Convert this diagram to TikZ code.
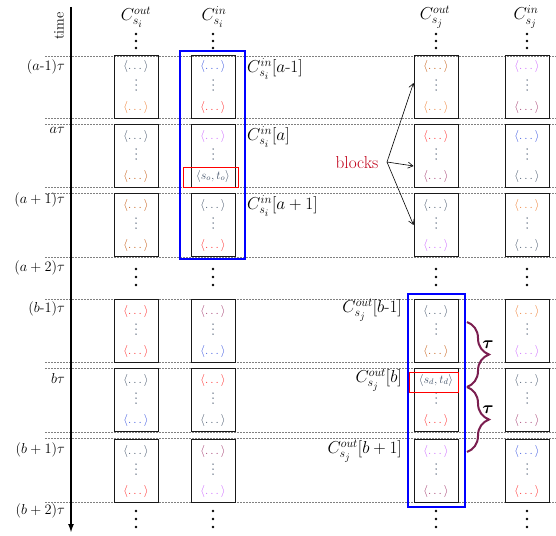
\documentclass[tikz,border=0pt]{standalone}
\usepackage{amsmath}
\usepackage{bm}
\usetikzlibrary{arrows.meta,decorations.pathreplacing}

\definecolor{slate}{HTML}{44546A}
\definecolor{orange}{HTML}{ED7D31}
\definecolor{brown}{HTML}{C55A11}
\definecolor{hotred}{HTML}{FF2A2A}
\definecolor{blu}{HTML}{3A55E0}
\definecolor{lilac}{HTML}{CC66FF}
\definecolor{plum}{HTML}{A33B6F}
\definecolor{blkred}{HTML}{C00018}
\definecolor{bracecol}{HTML}{7B1E50}

\newcommand{\ent}[1]{\textcolor{#1}{$\langle\dots\rangle$}}
\newcommand{\pairtxt}[2]{\textcolor{slate}{$\langle #1,#2\rangle$}}
\newcommand{\hy}{\mbox{-}}

\begin{document}
\begin{tikzpicture}[
    x=1pt, y=-1pt,
    blockbox/.style={
        draw=black!90,
        line width=1pt,
        minimum width=44pt,
        minimum height=63pt,
        inner sep=0pt,
        anchor=north
    },
    entry/.style={font=\large, inner sep=0pt},
    timelabel/.style={font=\Large, anchor=east, inner sep=0pt},
    clabel/.style={font=\LARGE, inner sep=0pt},
    grid/.style={dash pattern=on 2pt off 1pt, draw=black!50, line width=0.5pt},
    selbox/.style={draw=blue, line width=2.2pt, inner sep=0pt},
    markbox/.style={draw=red, line width=0.8pt, inner sep=0pt},
    blkarrow/.style={-{Straight Barb[length=5pt,width=6pt]}, line width=0.6pt},
    tbrace/.style={
        decorate,
        decoration={brace, amplitude=22pt},
        draw=bracecol,
        line width=2pt
    }
]

    \useasboundingbox (0,0) rectangle (556,535);

    % columns and rows
    \foreach \cn/\x in {1/136,2/213,3/436,4/527}{
        \coordinate (c\cn) at (\x,0);
    }
    \foreach \rn/\y in {1/55,2/124,3/193,4/299,5/368,6/439}{
        \coordinate (r\rn) at (0,\y);
    }

    \foreach \y in {56,118,124,187,193,257,299,362,368,432,438,502}{
        \draw[grid] (45,\y) -- (556,\y);
    }

    % time axis
    \coordinate (axtop) at (71,7);
    \coordinate (axbot) at (71,533);
    \draw[-{Latex[length=9pt,width=6pt]}, line width=2pt] (axtop) -- (axbot);
    \node[rotate=90, font=\Large] (timelbl) at (59,26) {time};

    \foreach \y/\lbl [count=\k] in {
        67/{$(a\hy1)\tau$},130/{$a\tau$},200/{$(a+1)\tau$},268/{$(a+2)\tau$},
        309/{$(b\hy1)\tau$},378/{$b\tau$},450/{$(b+1)\tau$},511/{$(b+2)\tau$}
    }{
        \node[timelabel] (tl\k) at (65,\y) {\lbl};
    }

    % column heads
    \foreach \cn/\x/\lbl in {
        1/136/{$C^{out}_{s_i}$},2/214/{$C^{in}_{s_i}$},
        3/435/{$C^{out}_{s_j}$},4/526/{$C^{in}_{s_j}$}
    }{
        \node[clabel] (h\cn) at (\x,17) {\lbl};
    }

    \foreach \cn in {1,2,3,4}{
        \foreach \y in {34,41,48,269,277,285,511,519,527}{
            \fill ([yshift=-\y pt]c\cn) circle (1.4pt);
        }
    }

    % blocks
    \foreach \rn/\cn/\ta/\tb in {
        1/1/{\ent{slate}}/{\ent{orange}},
        1/2/{\ent{blu}}/{\ent{hotred}},
        1/3/{\ent{brown}}/{\ent{orange}},
        1/4/{\ent{lilac}}/{\ent{plum}},
        2/1/{\ent{slate}}/{\ent{brown}},
        2/2/{\ent{lilac}}/{\pairtxt{s_o}{t_o}},
        2/3/{\ent{hotred}}/{\ent{plum}},
        2/4/{\ent{blu}}/{\ent{slate}},
        3/1/{\ent{brown}}/{\ent{brown}},
        3/2/{\ent{slate}}/{\ent{hotred}},
        3/3/{\ent{slate}}/{\ent{lilac}},
        3/4/{\ent{orange}}/{\ent{slate}},
        4/1/{\ent{hotred}}/{\ent{hotred}},
        4/2/{\ent{plum}}/{\ent{blu}},
        4/3/{\ent{slate}}/{\ent{brown}},
        4/4/{\ent{orange}}/{\ent{lilac}},
        5/1/{\ent{slate}}/{\ent{blu}},
        5/2/{\ent{hotred}}/{\ent{slate}},
        5/3/{\pairtxt{s_d}{t_d}}/{\ent{hotred}},
        5/4/{\ent{slate}}/{\ent{plum}},
        6/1/{\ent{slate}}/{\ent{hotred}},
        6/2/{\ent{plum}}/{\ent{lilac}},
        6/3/{\ent{lilac}}/{\ent{plum}},
        6/4/{\ent{blu}}/{\ent{hotred}}
    }{
        \node[blockbox] (b\rn\cn) at (c\cn |- r\rn) {};
        \node[entry] (t\rn\cn) at ([yshift=-12pt]b\rn\cn.north) {\ta};
        \node[entry] (u\rn\cn) at ([yshift=-52pt]b\rn\cn.north) {\tb};
        \foreach \d in {25,30,35}{
            \fill[slate] ([yshift=-\d pt]b\rn\cn.north) circle (0.75pt);
        }
    }

    % labels of the selected channels
    \node[clabel, anchor=west] (ia) at (247,69) {$C^{in}_{s_i}[a\hy1]$};
    \node[clabel, anchor=west] (ib) at (247,137) {$C^{in}_{s_i}[a]$};
    \node[clabel, anchor=west] (ic) at (247,206) {$C^{in}_{s_i}[a+1]$};
    \node[clabel, anchor=east] (oa) at (402,310) {$C^{out}_{s_j}[b\hy1]$};
    \node[clabel, anchor=east] (ob) at (402,380) {$C^{out}_{s_j}[b]$};
    \node[clabel, anchor=east] (oc) at (402,451) {$C^{out}_{s_j}[b+1]$};

    \node[selbox, minimum width=65pt, minimum height=208pt] (sel1) at (212.5,155) {};
    \node[selbox, minimum width=57pt, minimum height=213pt] (sel2) at (436.5,400.5) {};
    \node[markbox, minimum width=55pt, minimum height=20pt] (mk1) at (210.5,177) {};
    \node[markbox, minimum width=49pt, minimum height=20pt] (mk2) at (433.5,382) {};

    % blocks pointer
    \node[font=\LARGE, text=blkred, inner sep=0pt] (blk) at (357,163) {blocks};
    \coordinate (fork) at (387,162);
    \draw[blkarrow] (fork) -- ([yshift=4pt]b13.west);
    \draw[blkarrow] (fork) -- ([yshift=-10pt]b23.west);
    \draw[blkarrow] (fork) -- (b33.west);

    % tau braces
    \coordinate (br1) at (467,322);
    \coordinate (br2) at (467,387);
    \coordinate (br3) at (467,452);
    \draw[tbrace] (br1) -- (br2);
    \draw[tbrace] (br2) -- (br3);
    \node[font=\LARGE, inner sep=0pt] (tau1) at (488,345) {$\bm{\tau}$};
    \node[font=\LARGE, inner sep=0pt] (tau2) at (488,410) {$\bm{\tau}$};

\end{tikzpicture}
\end{document}
